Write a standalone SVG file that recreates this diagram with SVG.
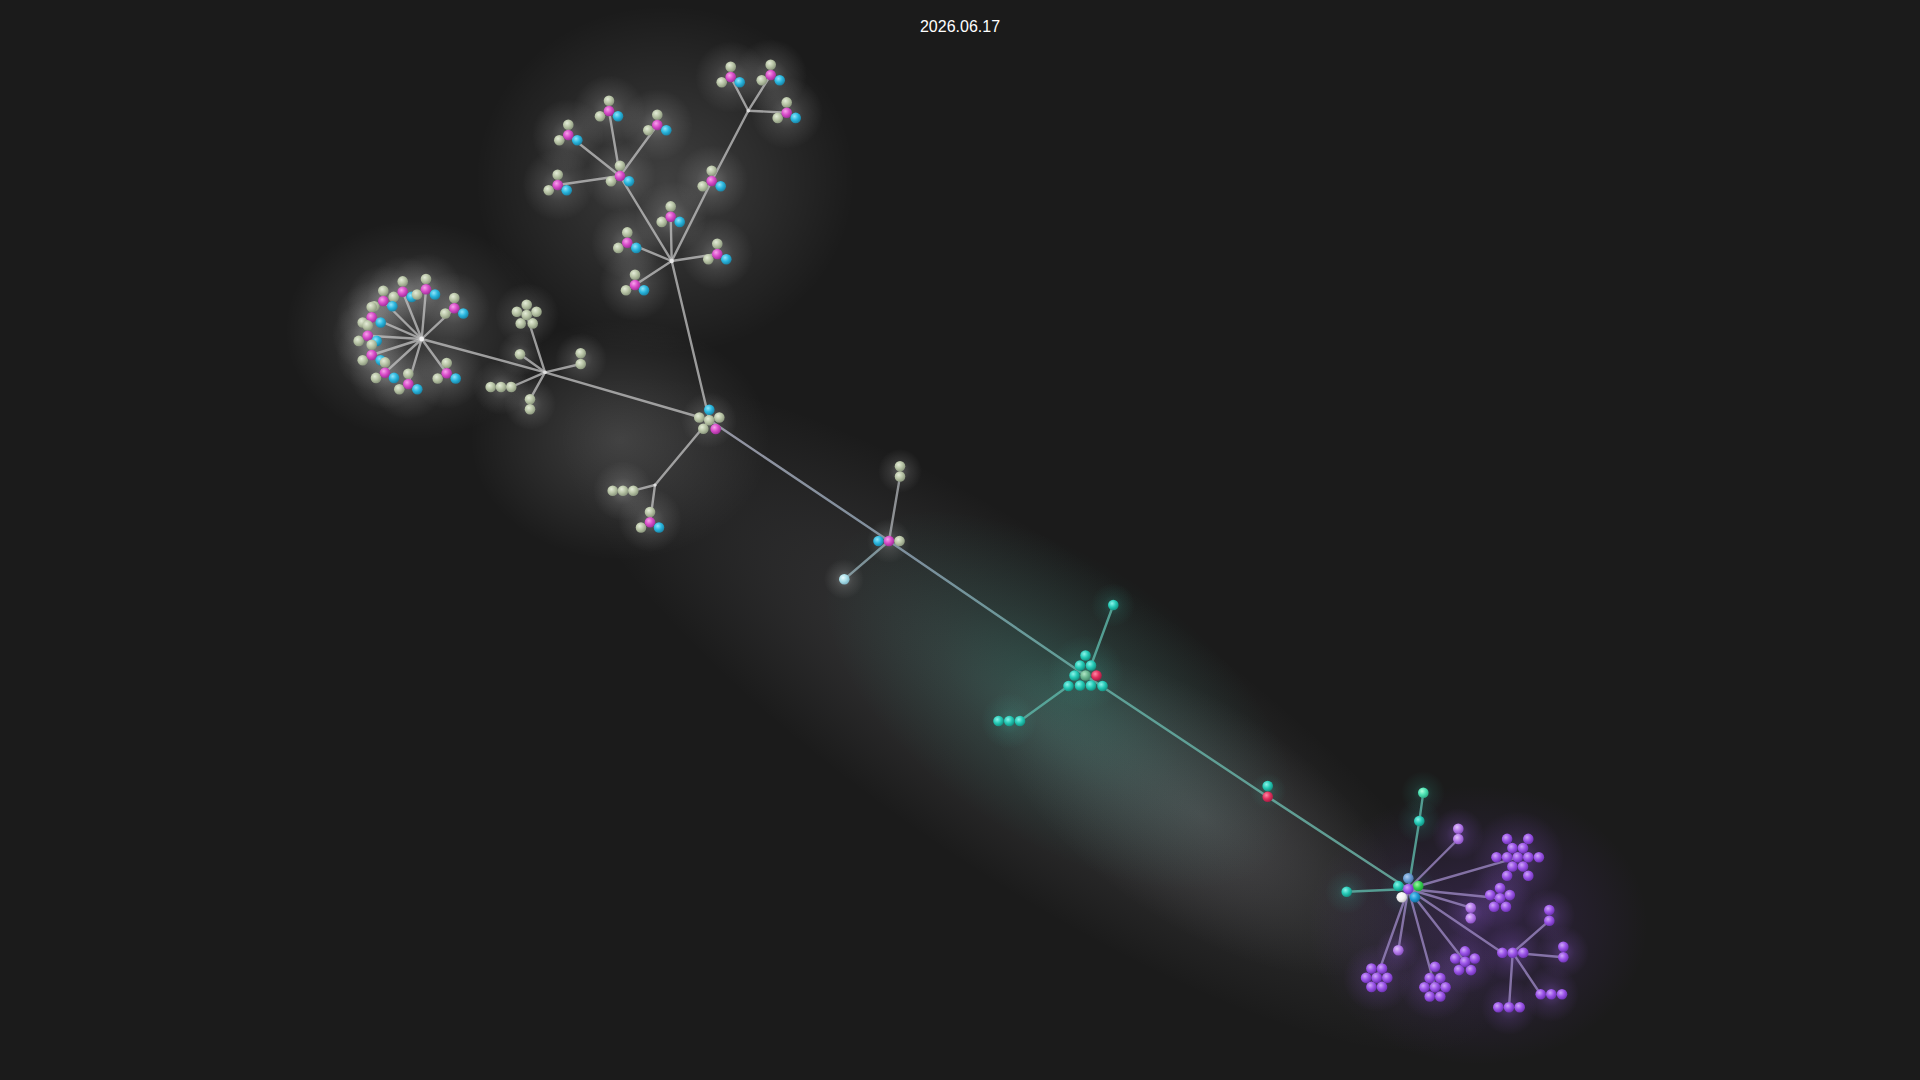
<svg xmlns="http://www.w3.org/2000/svg" xmlns:xlink="http://www.w3.org/1999/xlink" width="1920" height="1080" viewBox="0 0 1920 1080">
<style>
.e{fill:none;stroke:#c4c4c4;stroke-width:2.4;stroke-opacity:.75;stroke-linecap:round}
.ep{fill:none;stroke:#9a86c0;stroke-width:2.4;stroke-opacity:.8;stroke-linecap:round}
.et{fill:none;stroke:#5fb8aa;stroke-width:2.4;stroke-opacity:.8;stroke-linecap:round}
.es{fill:none;stroke:url(#spine);stroke-width:2.4;stroke-linecap:round}
.b{fill:url(#gBeige)}.m{fill:url(#gMag)}.c{fill:url(#gCyan)}.t{fill:url(#gTeal)}.p{fill:url(#gPurple)}
.r{fill:url(#gRed)}.g{fill:url(#gGreen)}.w{fill:url(#gWhite)}.s{fill:url(#gSteel)}.bl{fill:url(#gBlue)}
.lc{fill:url(#gLightCyan)}.mi{fill:url(#gMint)}.tc{fill:url(#gTealC)}.li{fill:url(#gLilac)}
.hw{fill:url(#haloW)}.ht{fill:url(#haloT)}.hp{fill:url(#haloP)}
.title{font-family:"Liberation Sans",Arial,sans-serif;font-size:16px;fill:#ffffff}
</style>
<defs>
<radialGradient id="gBeige" cx="38%" cy="35%" r="65%"><stop offset="0" stop-color="#e4ecd8"/><stop offset=".55" stop-color="#b8c4a6"/><stop offset="1" stop-color="#8e9a80"/></radialGradient>
<radialGradient id="gMag" cx="38%" cy="35%" r="65%"><stop offset="0" stop-color="#f7a4ec"/><stop offset=".55" stop-color="#d84cc8"/><stop offset="1" stop-color="#a2309a"/></radialGradient>
<radialGradient id="gCyan" cx="38%" cy="35%" r="65%"><stop offset="0" stop-color="#90e6fa"/><stop offset=".55" stop-color="#2ab6de"/><stop offset="1" stop-color="#1a86a8"/></radialGradient>
<radialGradient id="gTeal" cx="38%" cy="35%" r="65%"><stop offset="0" stop-color="#8cf4ea"/><stop offset=".55" stop-color="#26cab6"/><stop offset="1" stop-color="#139484"/></radialGradient>
<radialGradient id="gPurple" cx="38%" cy="35%" r="65%"><stop offset="0" stop-color="#cfa6fa"/><stop offset=".55" stop-color="#9b54e8"/><stop offset="1" stop-color="#7034b6"/></radialGradient>
<radialGradient id="gLilac" cx="38%" cy="35%" r="65%"><stop offset="0" stop-color="#e2c6fc"/><stop offset=".55" stop-color="#b67cec"/><stop offset="1" stop-color="#8a52c2"/></radialGradient>
<radialGradient id="gRed" cx="38%" cy="35%" r="65%"><stop offset="0" stop-color="#ff8aa6"/><stop offset=".55" stop-color="#e2305e"/><stop offset="1" stop-color="#a61e44"/></radialGradient>
<radialGradient id="gGreen" cx="38%" cy="35%" r="65%"><stop offset="0" stop-color="#a4f4a8"/><stop offset=".55" stop-color="#36d052"/><stop offset="1" stop-color="#20a038"/></radialGradient>
<radialGradient id="gWhite" cx="38%" cy="35%" r="65%"><stop offset="0" stop-color="#ffffff"/><stop offset=".6" stop-color="#f0f0f0"/><stop offset="1" stop-color="#c4c4c4"/></radialGradient>
<radialGradient id="gSteel" cx="38%" cy="35%" r="65%"><stop offset="0" stop-color="#b0d0f2"/><stop offset=".55" stop-color="#6a9cd2"/><stop offset="1" stop-color="#4a72a6"/></radialGradient>
<radialGradient id="gBlue" cx="38%" cy="35%" r="65%"><stop offset="0" stop-color="#78ccf2"/><stop offset=".55" stop-color="#1f9ad6"/><stop offset="1" stop-color="#166e9e"/></radialGradient>
<radialGradient id="gLightCyan" cx="38%" cy="35%" r="65%"><stop offset="0" stop-color="#eafcff"/><stop offset=".55" stop-color="#aadfe9"/><stop offset="1" stop-color="#7fb6c6"/></radialGradient>
<radialGradient id="gMint" cx="38%" cy="35%" r="65%"><stop offset="0" stop-color="#b0ffdc"/><stop offset=".55" stop-color="#4ce2b2"/><stop offset="1" stop-color="#2eae86"/></radialGradient>
<radialGradient id="gTealC" cx="38%" cy="35%" r="65%"><stop offset="0" stop-color="#b2e6c6"/><stop offset=".55" stop-color="#6cb892"/><stop offset="1" stop-color="#4a8e70"/></radialGradient>
<linearGradient id="spine" gradientUnits="userSpaceOnUse" x1="709" y1="420" x2="1408" y2="889"><stop offset="0" stop-color="#a8a8b8" stop-opacity=".85"/><stop offset=".3" stop-color="#8aa0b0" stop-opacity=".85"/><stop offset=".55" stop-color="#62aaa0" stop-opacity=".9"/><stop offset="1" stop-color="#6ab0a4" stop-opacity=".85"/></linearGradient>
<radialGradient id="haloW"><stop offset="0" stop-color="#ffffff" stop-opacity=".26"/><stop offset=".45" stop-color="#ffffff" stop-opacity=".1"/><stop offset="1" stop-color="#ffffff" stop-opacity="0"/></radialGradient>
<radialGradient id="haloT"><stop offset="0" stop-color="#40e0c8" stop-opacity=".22"/><stop offset=".45" stop-color="#40e0c8" stop-opacity=".08"/><stop offset="1" stop-color="#40e0c8" stop-opacity="0"/></radialGradient>
<radialGradient id="haloP"><stop offset="0" stop-color="#a868ff" stop-opacity=".32"/><stop offset=".45" stop-color="#a868ff" stop-opacity=".12"/><stop offset="1" stop-color="#a868ff" stop-opacity="0"/></radialGradient>
<radialGradient id="cloudW"><stop offset="0" stop-color="#ffffff" stop-opacity=".16"/><stop offset=".5" stop-color="#ffffff" stop-opacity=".08"/><stop offset="1" stop-color="#ffffff" stop-opacity="0"/></radialGradient>
<radialGradient id="cloudG"><stop offset="0" stop-color="#c8c8d0" stop-opacity=".17"/><stop offset=".55" stop-color="#c8c8d0" stop-opacity=".08"/><stop offset="1" stop-color="#c8c8d0" stop-opacity="0"/></radialGradient>
<radialGradient id="cloudT"><stop offset="0" stop-color="#2ed2b0" stop-opacity=".2"/><stop offset=".5" stop-color="#2ed2b0" stop-opacity=".08"/><stop offset="1" stop-color="#2ed2b0" stop-opacity="0"/></radialGradient>
<radialGradient id="cloudP"><stop offset="0" stop-color="#9a50ff" stop-opacity=".2"/><stop offset=".5" stop-color="#9a50ff" stop-opacity=".09"/><stop offset="1" stop-color="#9a50ff" stop-opacity="0"/></radialGradient>
<g id="triad"><circle class="b" cx="0" cy="-10.3" r="5.3"/><circle class="b" cx="-9" cy="5.2" r="5.3"/><circle class="m" cx="0" cy="0" r="5.3"/><circle class="c" cx="9" cy="5.2" r="5.3"/></g>
<g id="pentB"><circle class="b" cx="0" cy="-10.3" r="5.3"/><circle class="b" cx="9.8" cy="-3.2" r="5.3"/><circle class="b" cx="6" cy="8.4" r="5.3"/><circle class="b" cx="-6" cy="8.4" r="5.3"/><circle class="b" cx="-9.8" cy="-3.2" r="5.3"/><circle class="b" cx="0" cy="0" r="5.3"/></g>
<g id="pentP"><circle class="p" cx="0" cy="-10.3" r="5.3"/><circle class="p" cx="9.8" cy="-3.2" r="5.3"/><circle class="p" cx="6" cy="8.4" r="5.3"/><circle class="p" cx="-6" cy="8.4" r="5.3"/><circle class="p" cx="-9.8" cy="-3.2" r="5.3"/><circle class="p" cx="0" cy="0" r="5.3"/></g>
<g id="hex7"><circle class="p" cx="-5.3" cy="-9.2" r="5.3"/><circle class="p" cx="5.3" cy="-9.2" r="5.3"/><circle class="p" cx="-10.6" cy="0" r="5.3"/><circle class="p" cx="0" cy="0" r="5.3"/><circle class="p" cx="10.6" cy="0" r="5.3"/><circle class="p" cx="-5.3" cy="9.2" r="5.3"/><circle class="p" cx="5.3" cy="9.2" r="5.3"/></g>
<g id="hex8"><circle class="p" cx="0" cy="-20.5" r="5.3"/><use xlink:href="#hex7" href="#hex7"/></g>
<g id="snow13"><circle class="p" cx="-10.6" cy="-18.4" r="5.3"/><circle class="p" cx="10.6" cy="-18.4" r="5.3"/><circle class="p" cx="-21.2" cy="0" r="5.3"/><circle class="p" cx="21.2" cy="0" r="5.3"/><circle class="p" cx="-10.6" cy="18.4" r="5.3"/><circle class="p" cx="10.6" cy="18.4" r="5.3"/><use xlink:href="#hex7" href="#hex7"/></g>
</defs>

<rect width="1920" height="1080" fill="#1b1b1b"/>

<g id="background-glow">
<ellipse cx="1030" cy="715" rx="560" ry="160" transform="rotate(34 1030 715)" fill="url(#cloudG)"/>
<ellipse cx="1200" cy="815" rx="240" ry="110" transform="rotate(34 1200 815)" fill="url(#cloudG)"/>
<ellipse cx="1060" cy="700" rx="270" ry="140" transform="rotate(34 1060 700)" fill="url(#cloudT)"/>
<ellipse cx="1478" cy="925" rx="170" ry="140" fill="url(#cloudP)"/>
<ellipse cx="665" cy="180" rx="190" ry="175" fill="url(#cloudW)"/>
<ellipse cx="415" cy="330" rx="130" ry="110" fill="url(#cloudW)"/>
<ellipse cx="620" cy="440" rx="150" ry="120" fill="url(#cloudW)"/>
<g id="halos-white">
<circle class="hw" cx="568" cy="135" r="36"/><circle class="hw" cx="609" cy="111" r="36"/><circle class="hw" cx="657" cy="125" r="36"/><circle class="hw" cx="558" cy="185" r="36"/><circle class="hw" cx="620" cy="176" r="36"/>
<circle class="hw" cx="671" cy="217" r="36"/><circle class="hw" cx="627" cy="243" r="36"/><circle class="hw" cx="717" cy="254" r="36"/><circle class="hw" cx="635" cy="285" r="36"/><circle class="hw" cx="712" cy="181" r="36"/>
<circle class="hw" cx="731" cy="77" r="36"/><circle class="hw" cx="771" cy="75" r="36"/><circle class="hw" cx="787" cy="113" r="36"/>
<circle class="hw" cx="403" cy="292" r="36"/><circle class="hw" cx="426" cy="289" r="36"/><circle class="hw" cx="454" cy="308" r="36"/><circle class="hw" cx="383" cy="301" r="36"/><circle class="hw" cx="372" cy="317" r="36"/>
<circle class="hw" cx="368" cy="336" r="36"/><circle class="hw" cx="372" cy="355" r="36"/><circle class="hw" cx="385" cy="373" r="36"/><circle class="hw" cx="408" cy="384" r="36"/><circle class="hw" cx="447" cy="373" r="36"/>
<circle class="hw" cx="527" cy="315" r="32"/><circle class="hw" cx="520" cy="354" r="22"/><circle class="hw" cx="581" cy="359" r="26"/><circle class="hw" cx="501" cy="387" r="28"/><circle class="hw" cx="530" cy="404" r="26"/>
<circle class="hw" cx="709" cy="420" r="28"/><circle class="hw" cx="623" cy="491" r="30"/><circle class="hw" cx="650" cy="520" r="32"/>
<circle class="hw" cx="900" cy="471" r="22"/><circle class="hw" cx="889" cy="541" r="22"/><circle class="hw" cx="844" cy="579" r="20"/>
</g>
<g id="halos-teal">
<circle class="ht" cx="1086" cy="673" r="38"/><circle class="ht" cx="1113" cy="605" r="22"/><circle class="ht" cx="1009" cy="721" r="28"/><circle class="ht" cx="1268" cy="791" r="18"/>
<circle class="ht" cx="1419" cy="821" r="22"/><circle class="ht" cx="1423" cy="793" r="22"/><circle class="ht" cx="1347" cy="892" r="22"/><circle class="ht" cx="1408" cy="889" r="28"/>
</g>
<g id="halos-purple">
<circle class="hp" cx="1458" cy="834" r="26"/><circle class="hp" cx="1518" cy="857" r="46"/><circle class="hp" cx="1500" cy="898" r="32"/><circle class="hp" cx="1471" cy="913" r="26"/>
<circle class="hp" cx="1513" cy="953" r="30"/><circle class="hp" cx="1549" cy="915" r="26"/><circle class="hp" cx="1563" cy="952" r="26"/><circle class="hp" cx="1551" cy="994" r="28"/><circle class="hp" cx="1509" cy="1007" r="28"/>
<circle class="hp" cx="1465" cy="962" r="32"/><circle class="hp" cx="1435" cy="984" r="36"/><circle class="hp" cx="1398" cy="950" r="22"/><circle class="hp" cx="1377" cy="978" r="34"/>
</g>
</g>

<g id="connectors">
<line class="e" x1="671.7" y1="261" x2="620" y2="176"/>
<line class="e" x1="620" y1="176" x2="568.3" y2="135"/>
<line class="e" x1="620" y1="176" x2="609" y2="111"/>
<line class="e" x1="620" y1="176" x2="657.3" y2="125"/>
<line class="e" x1="620" y1="176" x2="557.7" y2="185"/>
<line class="e" x1="671.7" y1="261" x2="670.7" y2="216.7"/>
<line class="e" x1="671.7" y1="261" x2="627.3" y2="242.7"/>
<line class="e" x1="671.7" y1="261" x2="717.3" y2="254"/>
<line class="e" x1="671.7" y1="261" x2="635" y2="285"/>
<line class="e" x1="671.7" y1="261" x2="711.7" y2="181"/>
<line class="e" x1="711.7" y1="181" x2="748.3" y2="110.7"/>
<line class="e" x1="748.3" y1="110.7" x2="730.7" y2="77"/>
<line class="e" x1="748.3" y1="110.7" x2="770.7" y2="75"/>
<line class="e" x1="748.3" y1="110.7" x2="786.7" y2="112.7"/>
<line class="e" x1="671.7" y1="261" x2="709.3" y2="420"/>
<line class="e" x1="421.7" y1="339" x2="402.7" y2="291.7"/>
<line class="e" x1="421.7" y1="339" x2="426" y2="289.3"/>
<line class="e" x1="421.7" y1="339" x2="454.3" y2="308.3"/>
<line class="e" x1="421.7" y1="339" x2="383.3" y2="301"/>
<line class="e" x1="421.7" y1="339" x2="371.7" y2="317.3"/>
<line class="e" x1="421.7" y1="339" x2="367.7" y2="335.7"/>
<line class="e" x1="421.7" y1="339" x2="371.7" y2="355"/>
<line class="e" x1="421.7" y1="339" x2="385" y2="372.7"/>
<line class="e" x1="421.7" y1="339" x2="408.3" y2="384"/>
<line class="e" x1="421.7" y1="339" x2="446.7" y2="373.3"/>
<line class="e" x1="421.7" y1="339" x2="545" y2="372.3"/>
<line class="e" x1="545" y1="372.3" x2="709.3" y2="420"/>
<line class="e" x1="545" y1="372.3" x2="526.7" y2="315"/>
<line class="e" x1="545" y1="372.3" x2="520" y2="354.3"/>
<line class="e" x1="545" y1="372.3" x2="580.7" y2="364"/>
<line class="e" x1="545" y1="372.3" x2="511.3" y2="387"/>
<line class="e" x1="545" y1="372.3" x2="530" y2="399.3"/>
<line class="e" x1="709.3" y1="420" x2="655" y2="485"/>
<line class="e" x1="655" y1="485" x2="633.3" y2="490.7"/>
<line class="e" x1="655" y1="485" x2="650" y2="522.3"/>
<line class="es" x1="709.3" y1="420" x2="889" y2="541"/>
<line class="es" x1="889" y1="541" x2="1085.5" y2="675.5"/>
<line class="es" x1="1085.5" y1="675.5" x2="1267.7" y2="796.7"/>
<line class="es" x1="1267.7" y1="796.7" x2="1408.3" y2="889"/>
<line class="e" x1="889" y1="541" x2="900" y2="476.4" style="stroke:#b0b4b8"/>
<line class="e" x1="889" y1="541" x2="844.3" y2="579.3" style="stroke:#9ab4bc"/>
<line class="et" x1="1091" y1="665.5" x2="1113.3" y2="605"/>
<line class="et" x1="1069" y1="685.5" x2="1020" y2="721"/>
<line class="et" x1="1408.3" y1="889" x2="1419.3" y2="821"/>
<line class="et" x1="1419.3" y1="821" x2="1423.3" y2="792.7"/>
<line class="et" x1="1408.3" y1="889" x2="1346.7" y2="891.7"/>
<line class="ep" x1="1408.3" y1="889" x2="1458.3" y2="839"/>
<line class="ep" x1="1408.3" y1="889" x2="1517.7" y2="857.3"/>
<line class="ep" x1="1408.3" y1="889" x2="1500" y2="898.3"/>
<line class="ep" x1="1408.3" y1="889" x2="1470.7" y2="907.7"/>
<line class="ep" x1="1408.3" y1="889" x2="1502.3" y2="952.7"/>
<line class="ep" x1="1512.7" y1="952.7" x2="1549.3" y2="920.7"/>
<line class="ep" x1="1512.7" y1="952.7" x2="1563.3" y2="957.3"/>
<line class="ep" x1="1512.7" y1="952.7" x2="1540.7" y2="994.3"/>
<line class="ep" x1="1512.7" y1="952.7" x2="1509" y2="1007.3"/>
<line class="ep" x1="1408.3" y1="889" x2="1465" y2="961.7"/>
<line class="ep" x1="1408.3" y1="889" x2="1435" y2="987"/>
<line class="ep" x1="1408.3" y1="889" x2="1398.3" y2="950.3"/>
<line class="ep" x1="1408.3" y1="889" x2="1376.7" y2="977.7"/>
</g>

<g id="nodes">
<g id="top-hub"><circle cx="671.7" cy="261" r="2.2" fill="#e8e8e8"/></g>
<g id="top-sub"><use href="#triad" xlink:href="#triad" x="620" y="176"/></g>
<g id="t1"><use href="#triad" xlink:href="#triad" x="568.3" y="135"/></g>
<g id="t2"><use href="#triad" xlink:href="#triad" x="609" y="111"/></g>
<g id="t3"><use href="#triad" xlink:href="#triad" x="657.3" y="125"/></g>
<g id="t4"><use href="#triad" xlink:href="#triad" x="557.7" y="185"/></g>
<g id="ta"><use href="#triad" xlink:href="#triad" x="670.7" y="216.7"/></g>
<g id="tb"><use href="#triad" xlink:href="#triad" x="627.3" y="242.7"/></g>
<g id="tc"><use href="#triad" xlink:href="#triad" x="717.3" y="254"/></g>
<g id="td"><use href="#triad" xlink:href="#triad" x="635" y="285"/></g>
<g id="te"><use href="#triad" xlink:href="#triad" x="711.7" y="181"/></g>
<g id="tj"><circle cx="748.3" cy="110.7" r="1.8" fill="#dddddd"/></g>
<g id="tj1"><use href="#triad" xlink:href="#triad" x="730.7" y="77"/></g>
<g id="tj2"><use href="#triad" xlink:href="#triad" x="770.7" y="75"/></g>
<g id="tj3"><use href="#triad" xlink:href="#triad" x="786.7" y="112.7"/></g>

<g id="left-hub"><circle cx="421.7" cy="339" r="2.4" fill="#f0f0f0"/></g>
<g id="l1"><use href="#triad" xlink:href="#triad" x="402.7" y="291.7"/></g>
<g id="l2"><use href="#triad" xlink:href="#triad" x="426" y="289.3"/></g>
<g id="l3"><use href="#triad" xlink:href="#triad" x="454.3" y="308.3"/></g>
<g id="l4"><use href="#triad" xlink:href="#triad" x="383.3" y="301"/></g>
<g id="l5"><use href="#triad" xlink:href="#triad" x="371.7" y="317.3"/></g>
<g id="l6"><use href="#triad" xlink:href="#triad" x="367.7" y="335.7"/></g>
<g id="l7"><use href="#triad" xlink:href="#triad" x="371.7" y="355"/></g>
<g id="l8"><use href="#triad" xlink:href="#triad" x="385" y="372.7"/></g>
<g id="l9"><use href="#triad" xlink:href="#triad" x="408.3" y="384"/></g>
<g id="l10"><use href="#triad" xlink:href="#triad" x="446.7" y="373.3"/></g>

<g id="mid-junction"><circle cx="545" cy="372.3" r="1.8" fill="#e0e0e0"/></g>
<g id="m-pent"><use href="#pentB" xlink:href="#pentB" x="526.7" y="315"/></g>
<g id="m-single"><circle class="b" cx="520" cy="354.3" r="5.3"/></g>
<g id="m-pair"><circle class="b" cx="580.7" cy="353.3" r="5.3"/><circle class="b" cx="580.7" cy="364" r="5.3"/></g>
<g id="m-row"><circle class="b" cx="490.7" cy="387" r="5.3"/><circle class="b" cx="501" cy="387" r="5.3"/><circle class="b" cx="511.3" cy="387" r="5.3"/></g>
<g id="m-pair2"><circle class="b" cx="530" cy="399.3" r="5.3"/><circle class="b" cx="530" cy="409.3" r="5.3"/></g>

<g id="n1"><circle class="c" cx="709.3" cy="409.8" r="5.3"/><circle class="b" cx="699.3" cy="417.5" r="5.3"/><circle class="b" cx="719.3" cy="417.5" r="5.3"/><circle class="b" cx="709.3" cy="420.3" r="5.3"/><circle class="b" cx="703.3" cy="428.7" r="5.3"/><circle class="m" cx="715.7" cy="429" r="5.3"/></g>
<g id="low-junction"><circle cx="655" cy="485" r="1.6" fill="#dddddd"/></g>
<g id="low-row"><circle class="b" cx="612.7" cy="490.7" r="5.3"/><circle class="b" cx="623" cy="490.7" r="5.3"/><circle class="b" cx="633.3" cy="490.7" r="5.3"/></g>
<g id="low-triad"><use href="#triad" xlink:href="#triad" x="650" y="522.3"/></g>

<g id="n2-pair"><circle class="b" cx="900" cy="466.3" r="5.3"/><circle class="b" cx="900" cy="476.5" r="5.3"/></g>
<g id="n2"><circle class="c" cx="878.5" cy="541" r="5.3"/><circle class="m" cx="889" cy="541" r="5.3"/><circle class="b" cx="899.5" cy="541" r="5.3"/></g>
<g id="n2-leaf"><circle class="lc" cx="844.3" cy="579.3" r="5.3"/></g>

<g id="n3">
<circle class="t" cx="1085.5" cy="655.5" r="5.3"/>
<circle class="t" cx="1080" cy="665.5" r="5.3"/><circle class="t" cx="1091" cy="665.5" r="5.3"/>
<circle class="t" cx="1074.5" cy="675.5" r="5.3"/><circle class="tc" cx="1085.5" cy="675.5" r="5.3"/><circle class="r" cx="1096.5" cy="675.5" r="5.3"/>
<circle class="t" cx="1068.5" cy="686" r="5.3"/><circle class="t" cx="1080" cy="685.5" r="5.3"/><circle class="t" cx="1091" cy="685.5" r="5.3"/><circle class="t" cx="1102.5" cy="686" r="5.3"/>
</g>
<g id="n3-leaf"><circle class="t" cx="1113.3" cy="605" r="5.3"/></g>
<g id="n3-row"><circle class="t" cx="998.5" cy="721" r="5.3"/><circle class="t" cx="1009.3" cy="721" r="5.3"/><circle class="t" cx="1020" cy="721" r="5.3"/></g>
<g id="n4"><circle class="t" cx="1267.7" cy="786" r="5.3"/><circle class="r" cx="1267.7" cy="796.7" r="5.3"/></g>

<g id="br-hub"><circle class="s" cx="1408.3" cy="878.3" r="5.3"/><circle class="t" cx="1398.3" cy="886" r="5.3"/><circle class="g" cx="1418.3" cy="886" r="5.3"/><circle class="p" cx="1408.3" cy="889" r="5.3"/><circle class="w" cx="1401.7" cy="897.3" r="5.3"/><circle class="bl" cx="1415" cy="897.3" r="5.3"/></g>
<g id="br-teal"><circle class="t" cx="1419.3" cy="821" r="5.3"/></g>
<g id="br-mint"><circle class="mi" cx="1423.3" cy="792.7" r="5.3"/></g>
<g id="br-cyan"><circle class="t" cx="1346.7" cy="891.7" r="5.3"/></g>
<g id="br-pair1"><circle class="li" cx="1458.3" cy="828.7" r="5.3"/><circle class="li" cx="1458.3" cy="839" r="5.3"/></g>
<g id="br-snow"><use href="#snow13" xlink:href="#snow13" x="1517.7" y="857.3"/></g>
<g id="br-pent1"><use href="#pentP" xlink:href="#pentP" x="1500" y="898.3"/></g>
<g id="br-pair2"><circle class="li" cx="1470.7" cy="907.7" r="5.3"/><circle class="li" cx="1470.7" cy="918.3" r="5.3"/></g>
<g id="br-junction"><circle class="p" cx="1502.3" cy="952.7" r="5.3"/><circle class="p" cx="1512.7" cy="952.7" r="5.3"/><circle class="p" cx="1523.3" cy="952.7" r="5.3"/></g>
<g id="br-pair3"><circle class="p" cx="1549.3" cy="910" r="5.3"/><circle class="p" cx="1549.3" cy="920.7" r="5.3"/></g>
<g id="br-pair4"><circle class="p" cx="1563.3" cy="946.7" r="5.3"/><circle class="p" cx="1563.3" cy="957.3" r="5.3"/></g>
<g id="br-row1"><circle class="p" cx="1540.7" cy="994.3" r="5.3"/><circle class="p" cx="1551.3" cy="994.3" r="5.3"/><circle class="p" cx="1562" cy="994.3" r="5.3"/></g>
<g id="br-row2"><circle class="p" cx="1498.3" cy="1007.3" r="5.3"/><circle class="p" cx="1509" cy="1007.3" r="5.3"/><circle class="p" cx="1519.7" cy="1007.3" r="5.3"/></g>
<g id="br-pent2"><use href="#pentP" xlink:href="#pentP" x="1465" y="961.7"/></g>
<g id="br-hex8"><use href="#hex8" xlink:href="#hex8" x="1435" y="987.3"/></g>
<g id="br-single"><circle class="li" cx="1398.3" cy="950.3" r="5.3"/></g>
<g id="br-hex7"><use href="#hex7" xlink:href="#hex7" x="1376.7" y="977.7"/></g>
</g>

<text class="title" x="960" y="32" text-anchor="middle">2026.06.17</text>
</svg>
